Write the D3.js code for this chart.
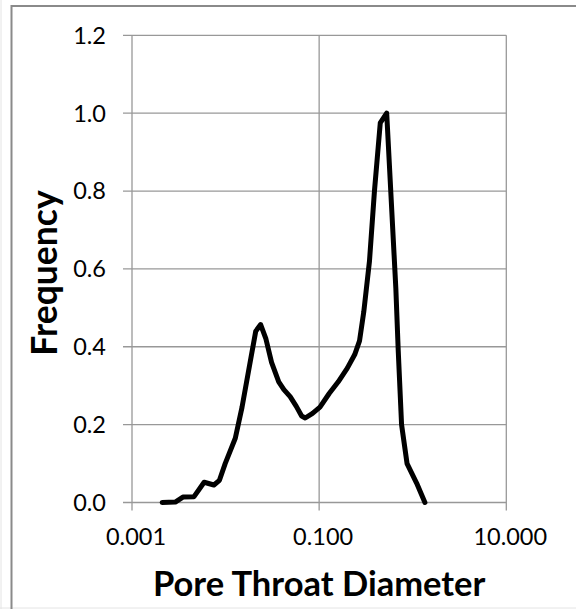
<!DOCTYPE html>
<html>
<head>
<meta charset="utf-8">
<script src="https://cdn.jsdelivr.net/npm/d3@7"></script>
<style>
  html, body { margin: 0; padding: 0; background: #fff; }
  svg { display: block; }
</style>
</head>
<body>
<svg id="chart" width="576" height="609"></svg>
<script>
// Data
const diameters = [0.0021, 0.0029, 0.0035, 0.0046, 0.0059, 0.0075, 0.0086, 0.0099, 0.0127, 0.0150,
  0.021, 0.0237, 0.027, 0.031, 0.037, 0.042, 0.049, 0.057, 0.065, 0.071,
  0.085, 0.102, 0.128, 0.16, 0.2, 0.24, 0.27, 0.30, 0.345, 0.39,
  0.45, 0.527, 0.66, 0.70, 0.76, 0.87, 1.1, 1.35];
const frequency = [0.0, 0.001, 0.014, 0.015, 0.052, 0.045, 0.057, 0.1, 0.165, 0.245,
  0.44, 0.457, 0.42, 0.36, 0.31, 0.29, 0.272, 0.247, 0.222, 0.217,
  0.229, 0.245, 0.28, 0.31, 0.345, 0.38, 0.415, 0.49, 0.62, 0.8,
  0.975, 1.0, 0.55, 0.39, 0.2, 0.1, 0.05, 0.0];
const xTicks = [0.001, 0.1, 10];
const xTickLabels = ["0.001", "0.100", "10.000"];
const yTicks = [0, 0.2, 0.4, 0.6, 0.8, 1.0, 1.2];
const xTitle = "Pore Throat Diameter";
const yTitle = "Frequency";

const svg = d3.select("#chart");
const margin = {left: 132, right: 576 - 506.3, top: 35.3, bottom: 609 - 502.5};
const W = 576, H = 609;
const x = d3.scaleLog().domain([0.001, 10]).range([margin.left, W - margin.right]);
const y = d3.scaleLinear().domain([0, 1.2]).range([H - margin.bottom, margin.top]);
const font = "Lato, 'Liberation Sans', sans-serif";
const grid = "#989898";

// outer frame
svg.append("line").attr("x1", 1).attr("x2", 1).attr("y1", 0).attr("y2", 609).attr("stroke", "#e4e4e4").attr("stroke-width", 1);
svg.append("line").attr("x1", 0).attr("x2", 576).attr("y1", 608).attr("y2", 608).attr("stroke", "#e4e4e4").attr("stroke-width", 1);
svg.append("path").attr("d", "M11.5,609 V6 H576").attr("fill", "none").attr("stroke", "#8a8a8a").attr("stroke-width", 2);

// gridlines
svg.append("g").selectAll("line").data(yTicks).join("line")
  .attr("x1", margin.left - 9).attr("x2", W - margin.right)
  .attr("y1", d => y(d)).attr("y2", d => y(d))
  .attr("stroke", grid).attr("stroke-width", 1.3);
svg.append("g").selectAll("line").data(xTicks).join("line")
  .attr("x1", d => x(d)).attr("x2", d => x(d))
  .attr("y1", margin.top).attr("y2", H - margin.bottom + 8)
  .attr("stroke", grid).attr("stroke-width", 1.3);

// y tick labels
svg.append("g").selectAll("text").data(yTicks).join("text")
  .attr("x", margin.left - 26).attr("y", d => y(d))
  .attr("dy", "0.36em")
  .attr("text-anchor", "end")
  .attr("font-family", font).attr("font-size", 23.5).attr("fill", "#000")
  .text(d => d.toFixed(1));

// x tick labels
svg.append("g").selectAll("text").data(xTicks).join("text")
  .attr("x", d => x(d) + 4).attr("y", 545)
  .attr("text-anchor", "middle")
  .attr("font-family", font).attr("font-size", 23.5).attr("fill", "#000")
  .text((d, i) => xTickLabels[i]);

// line
const line = d3.line().x(d => x(d[0])).y(d => y(d[1]));
svg.append("path")
  .datum(diameters.map((d, i) => [d, frequency[i]]))
  .attr("d", line)
  .attr("fill", "none").attr("stroke", "#000").attr("stroke-width", 5)
  .attr("stroke-linejoin", "round").attr("stroke-linecap", "round");

// axis titles
svg.append("text")
  .attr("x", (margin.left + W - margin.right) / 2).attr("y", 596)
  .attr("text-anchor", "middle")
  .attr("font-family", font).attr("font-weight", "bold").attr("font-size", 34.5).attr("fill", "#000")
  .text(xTitle);
svg.append("text")
  .attr("transform", "translate(57,273) rotate(-90)")
  .attr("text-anchor", "middle")
  .attr("font-family", font).attr("font-weight", "bold").attr("font-size", 35.5).attr("fill", "#000")
  .text(yTitle);
</script>
</body>
</html>
